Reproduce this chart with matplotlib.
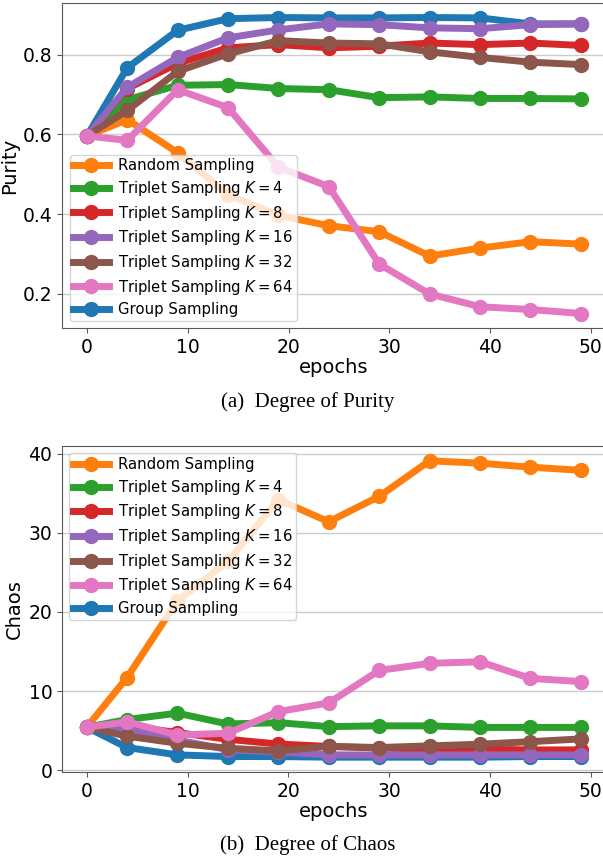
import matplotlib
matplotlib.use('Agg')
import matplotlib.pyplot as plt

# epochs at which the models were evaluated
epochs = [0, 4, 9, 14, 19, 24, 29, 34, 39, 44, 49]

# degree of purity
purity_group = [0.596, 0.767, 0.861, 0.890, 0.893, 0.892, 0.892, 0.893, 0.892, 0.877, 0.877]
purity_random = [0.596, 0.637, 0.554, 0.449, 0.397, 0.371, 0.356, 0.295, 0.315, 0.331, 0.325]
purity_k4 = [0.596, 0.687, 0.723, 0.725, 0.715, 0.712, 0.692, 0.694, 0.690, 0.690, 0.689]
purity_k8 = [0.596, 0.715, 0.778, 0.817, 0.825, 0.817, 0.821, 0.829, 0.825, 0.829, 0.823]
purity_k16 = [0.596, 0.718, 0.793, 0.842, 0.862, 0.877, 0.875, 0.867, 0.865, 0.875, 0.877]
purity_k32 = [0.596, 0.660, 0.758, 0.802, 0.835, 0.829, 0.827, 0.807, 0.793, 0.781, 0.775]
purity_k64 = [0.596, 0.585, 0.712, 0.667, 0.518, 0.469, 0.275, 0.200, 0.168, 0.161, 0.151]

# degree of chaos
chaos_group = [5.42, 2.86, 1.93, 1.72, 1.72, 1.64, 1.64, 1.64, 1.64, 1.72, 1.72]
chaos_random = [5.42, 11.7, 21.4, 26.4, 34.2, 31.4, 34.6, 39.1, 38.8, 38.3, 37.9]
chaos_k4 = [5.42, 6.4, 7.2, 5.84, 6.0, 5.5, 5.6, 5.6, 5.4, 5.4, 5.4]
chaos_k8 = [5.42, 5.6, 4.75, 3.9, 3.3, 3.0, 2.8, 2.65, 2.65, 2.56, 2.56]
chaos_k16 = [5.42, 5.1, 3.8, 2.6, 2.3, 1.93, 1.93, 1.93, 1.93, 1.93, 1.93]
chaos_k32 = [5.42, 4.3, 3.4, 2.77, 2.44, 3.0, 2.86, 3.07, 3.28, 3.6, 3.95]
chaos_k64 = [5.42, 6.1, 4.45, 4.66, 7.4, 8.5, 12.6, 13.5, 13.7, 11.6, 11.2]

xticks = [0, 10, 20, 30, 40, 50]
purity_ticks = [0.2, 0.4, 0.6, 0.8]
chaos_ticks = [0, 10, 20, 30, 40]

# plotting order (group sampling drawn first, listed last in legend)
names = ['Group Sampling', 'Random Sampling',
         r'Triplet Sampling $K=4$', r'Triplet Sampling $K=8$',
         r'Triplet Sampling $K=16$', r'Triplet Sampling $K=32$',
         r'Triplet Sampling $K=64$']
colors = ['C0', 'C1', 'C2', 'C3', 'C4', 'C5', 'C6']
legend_order = [1, 2, 3, 4, 5, 6, 0]

purity = [purity_group, purity_random, purity_k4, purity_k8, purity_k16, purity_k32, purity_k64]
chaos = [chaos_group, chaos_random, chaos_k4, chaos_k8, chaos_k16, chaos_k32, chaos_k64]

W, H = 603, 861
fig = plt.figure(figsize=(W / 100, H / 100), dpi=100)

def axes_px(left, right, top, bottom):
    return fig.add_axes([left / W, 1 - bottom / H, (right - left) / W, (bottom - top) / H])

ax1 = axes_px(62.3, 605.5, 2.7, 328.3)
ax2 = axes_px(62.0, 605.5, 446.0, 772.0)

def draw(ax, series, ylabel, yticks, loc):
    handles = []
    for vals, name, c in zip(series, names, colors):
        h, = ax.plot(epochs, vals, '-o', color=c, lw=5, ms=10, label=name)
        handles.append(h)
    ax.yaxis.grid(True, color='0.8', lw=1)
    ax.set_axisbelow(True)
    for s in ax.spines.values():
        s.set_color('0.35')
    ax.tick_params(labelsize=13.5, color='0.35')
    ax.set_xticks(xticks)
    ax.set_yticks(yticks)
    ax.set_xlabel('epochs', fontsize=14, labelpad=1)
    ax.set_ylabel(ylabel, fontsize=14, labelpad=3)
    ax.legend([handles[i] for i in legend_order], [names[i] for i in legend_order],
              loc=loc, fontsize=10.7, labelspacing=0.38, handlelength=2.4,
              handletextpad=0.6, borderpad=0.25, borderaxespad=0.5)

draw(ax1, purity, 'Purity', purity_ticks, 'lower left')
draw(ax2, chaos, 'Chaos', chaos_ticks, 'upper left')

fig.text(308 / W, 1 - 402 / H, '(a)  Degree of Purity', ha='center', va='center',
         fontsize=15, family='Liberation Serif')
fig.text(308 / W, 1 - 845 / H, '(b)  Degree of Chaos', ha='center', va='center',
         fontsize=15, family='Liberation Serif')

fig.savefig('out.png', dpi=100)
